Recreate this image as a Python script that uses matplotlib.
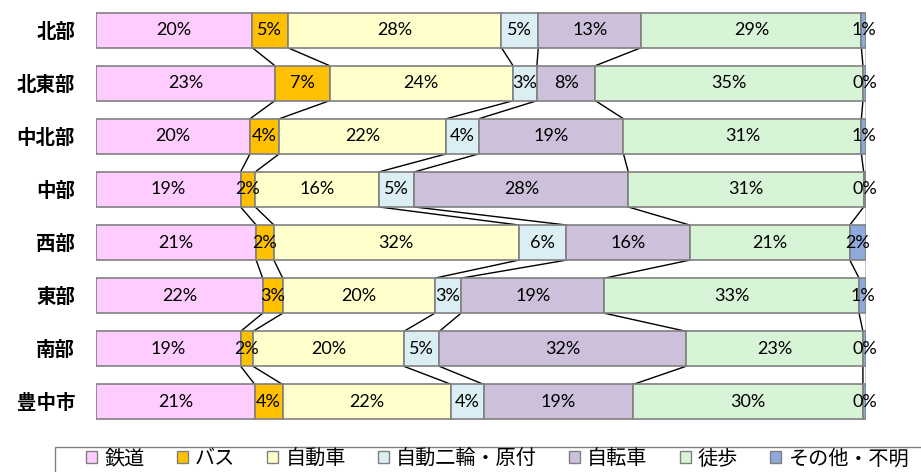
import numpy as np
import matplotlib
matplotlib.use("Agg")
from matplotlib import pyplot as plt
from matplotlib.patches import Patch, Rectangle

plt.rcParams['font.family'] = ['Noto Sans CJK JP', 'DejaVu Sans']

areas = ["北部", "北東部", "中北部", "中部", "西部", "東部", "南部", "豊中市"]
modes = ["鉄道", "バス", "自動車", "自動二輪・原付", "自転車", "徒歩", "その他・不明"]

rail  = [20.3, 23.2, 20.0, 18.8, 20.8, 21.6, 18.8, 20.6]
bus   = [4.6, 7.1, 3.8, 1.9, 2.3, 2.6, 1.6, 3.6]
car   = [27.8, 23.8, 21.7, 16.1, 31.8, 19.7, 19.6, 21.9]
moto  = [4.8, 3.1, 4.2, 4.6, 6.2, 3.4, 4.6, 4.2]
bike  = [13.4, 7.6, 18.8, 27.8, 16.0, 18.6, 32.0, 19.4]
walk  = [28.6, 34.7, 30.9, 30.6, 20.8, 33.0, 23.0, 29.8]
other = [0.6, 0.4, 0.6, 0.3, 2.1, 0.9, 0.4, 0.4]

colors = ["#FFCCFF", "#FFC000", "#FFFFCC", "#DAEEF3", "#CCC0DA", "#D8F4D6", "#8EA9DB"]

vals = np.array([rail, bus, car, moto, bike, walk, other])
share = vals / vals.sum(axis=0) * 100
cum = np.cumsum(share, axis=0)

fig = plt.figure(figsize=(9.21, 4.72), dpi=100)
ax = fig.add_axes([96/921, 1-428.5/472, 770/921, 425/472])

y = np.arange(len(areas))
h = 0.66
for k in range(len(modes)):
    left = cum[k] - share[k]
    ax.barh(y, share[k], left=left, height=h, color=colors[k],
            edgecolor="#808080", linewidth=1.2, zorder=2)
    for i in range(len(areas)):
        ax.text(left[i] + share[k][i] / 2, y[i], "{:.0f}%".format(vals[k][i]),
                ha="center", va="center", fontsize=13,
                family=["Lato", "DejaVu Sans"], zorder=4)

# series lines between bars
for k in range(len(modes)):
    for i in range(len(areas) - 1):
        ax.plot([cum[k][i], cum[k][i+1]], [y[i] + h/2, y[i+1] - h/2],
                color="black", linewidth=1, zorder=1)

ax.set_xlim(0, 100)
ax.set_ylim(len(areas) - 0.5, -0.5)
ax.set_yticks(y)
ax.set_yticklabels(areas, fontsize=14, fontweight="bold")
ax.tick_params(axis="y", length=0, pad=15)
ax.set_xticks([])
for s in ax.spines.values():
    s.set_visible(False)

# legend frame runs off the bottom/right edge like the original
fig.add_artist(Rectangle((55/921, -0.05), 1.0, 0.05 + 25/472, transform=fig.transFigure,
                         facecolor="none", edgecolor="#808080", linewidth=1))

handles = [Patch(facecolor=c, edgecolor="#808080", linewidth=1) for c in colors]
leg = fig.legend(handles, modes, loc="center left", bbox_to_anchor=(86/921, 1-459/472),
                 ncol=7, fontsize=14.5, frameon=False,
                 handlelength=0.55, handleheight=0.55, handletextpad=0.35,
                 columnspacing=1.6, borderpad=0, borderaxespad=0)

fig.savefig("out.png", dpi=100)
